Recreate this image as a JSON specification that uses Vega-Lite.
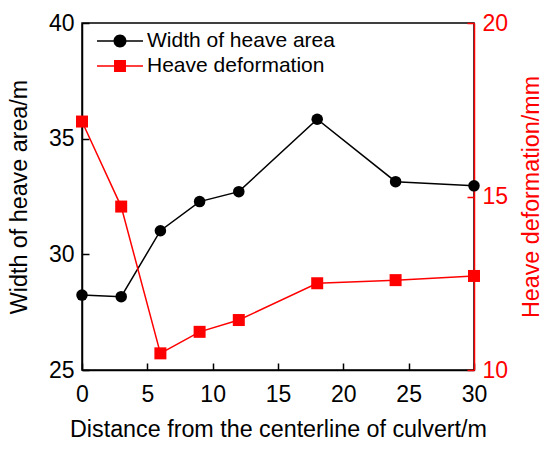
{
  "$schema": "https://vega.github.io/schema/vega-lite/v6.json",
  "description": "Width of heave area and heave deformation vs distance from culvert centerline",
  "autosize": "none",
  "width": 392,
  "height": 347,
  "padding": {"left": 82, "top": 23, "right": 76, "bottom": 85},
  "config": {
    "font": "Liberation Sans",
    "view": {"stroke": "black", "strokeWidth": 1.5},
    "axis": {
      "grid": false,
      "labelFontSize": 23,
      "titleFontSize": 23.3,
      "titleFontWeight": "normal",
      "domainWidth": 1.5,
      "tickWidth": 1.5,
      "tickSize": -7,
      "labelPadding": 15,
      "labelFlush": false,
      "domainColor": "black",
      "tickColor": "black",
      "labelColor": "black",
      "titleColor": "black"
    }
  },
  "data": {
    "values": [
      {"distance": 0, "series": "Width of heave area", "value": 28.24},
      {"distance": 3, "series": "Width of heave area", "value": 28.17},
      {"distance": 6, "series": "Width of heave area", "value": 31.02},
      {"distance": 9, "series": "Width of heave area", "value": 32.28},
      {"distance": 12, "series": "Width of heave area", "value": 32.71},
      {"distance": 18, "series": "Width of heave area", "value": 35.84},
      {"distance": 24, "series": "Width of heave area", "value": 33.14},
      {"distance": 30, "series": "Width of heave area", "value": 32.96},
      {"distance": 0, "series": "Heave deformation", "value": 17.16},
      {"distance": 3, "series": "Heave deformation", "value": 14.71},
      {"distance": 6, "series": "Heave deformation", "value": 10.48},
      {"distance": 9, "series": "Heave deformation", "value": 11.10},
      {"distance": 12, "series": "Heave deformation", "value": 11.44},
      {"distance": 18, "series": "Heave deformation", "value": 12.50},
      {"distance": 24, "series": "Heave deformation", "value": 12.59},
      {"distance": 30, "series": "Heave deformation", "value": 12.71}
    ]
  },
  "encoding": {
    "x": {
      "field": "distance",
      "type": "quantitative",
      "scale": {"domain": [0, 30], "nice": false},
      "axis": {
        "title": "Distance from the centerline of culvert/m",
        "values": [0, 5, 10, 15, 20, 25, 30],
        "labelPadding": 20,
        "titlePadding": 12
      }
    },
    "color": {
      "field": "series",
      "type": "nominal",
      "scale": {
        "domain": ["Width of heave area", "Heave deformation"],
        "range": ["black", "#ff0000"]
      },
      "legend": {
        "title": null,
        "orient": "top-left",
        "offset": 5,
        "padding": 0,
        "symbolOffset": 20,
        "symbolSize": 676,
        "symbolStrokeWidth": 0,
        "labelOffset": 14,
        "labelFontSize": 21,
        "labelLimit": 0,
        "labelColor": "black",
        "rowPadding": 2,
        "encode": {
          "symbols": {
            "update": {
              "shape": {"signal": "datum.value === 'Width of heave area' ? 'M-1.77,-0.055H-0.4V0.055H-1.77Z M0.4,-0.055H1.77V0.055H0.4Z M0.5,0A0.5,0.5,0,1,1,-0.5,0A0.5,0.5,0,1,1,0.5,0Z' : 'M-1.77,-0.055H-0.4V0.055H-1.77Z M0.4,-0.055H1.77V0.055H0.4Z M-0.46,-0.46H0.46V0.46H-0.46Z'"},
              "fill": {"signal": "datum.value === 'Width of heave area' ? 'black' : '#ff0000'"},
              "opacity": {"value": 1},
              "fillOpacity": {"value": 1}
            }
          }
        }
      }
    }
  },
  "layer": [
    {
      "transform": [{"filter": "datum.series === 'Width of heave area'"}],
      "mark": {
        "type": "line",
        "strokeWidth": 1.5,
        "point": {"filled": true, "shape": "circle", "size": 133, "opacity": 1}
      },
      "encoding": {
        "y": {
          "field": "value",
          "type": "quantitative",
          "scale": {"domain": [25, 40], "nice": false, "zero": false},
          "axis": {
            "orient": "left",
            "title": "Width of heave area/m",
            "values": [25, 30, 35, 40],
            "titlePadding": 17
          }
        }
      }
    },
    {
      "transform": [{"filter": "datum.series === 'Heave deformation'"}],
      "mark": {
        "type": "line",
        "strokeWidth": 1.5,
        "point": {"filled": true, "shape": "square", "size": 144, "opacity": 1}
      },
      "encoding": {
        "y": {
          "field": "value",
          "type": "quantitative",
          "scale": {"domain": [10, 20], "nice": false, "zero": false},
          "axis": {
            "orient": "right",
            "title": "Heave deformation/mm",
            "titleAngle": 270,
            "values": [10, 15, 20],
            "titlePadding": 36,
            "domainColor": "#ff0000",
            "tickColor": "#ff0000",
            "labelColor": "#ff0000",
            "titleColor": "#ff0000"
          }
        }
      }
    }
  ],
  "resolve": {"scale": {"y": "independent"}}
}
